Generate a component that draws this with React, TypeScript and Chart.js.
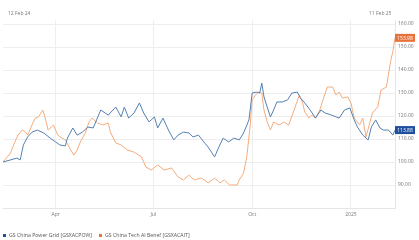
import React, { useEffect, useRef } from "react";
import { Chart, registerables } from "chart.js";

Chart.register(...registerables);

// days since 12 Feb 2024
const powerGridDays = [0, 13, 16, 19, 23, 27, 32, 38, 44, 49, 53, 58, 60, 65, 69, 74, 79, 84, 91, 98, 105, 110, 113, 117, 122, 127, 131, 136, 141, 144, 149, 154, 159, 163, 168, 173, 177, 182, 187, 191, 197, 201, 205, 210, 215, 220, 224, 229, 232, 236, 239, 241, 243, 246, 249, 252, 255, 260, 265, 269, 274, 277, 281, 286, 291, 296, 300, 306, 313, 318, 323, 327, 330, 335, 340, 343, 347, 351, 354, 359, 363, 365];
const powerGridValues = [100, 101.7, 100.9, 107.4, 110.9, 113, 113.9, 112.6, 110.4, 108.7, 107.4, 107, 110.4, 114.8, 111.7, 113, 115.2, 114.8, 122.6, 120.4, 123.9, 119.6, 123.9, 119.1, 121.3, 125.7, 121.3, 117.4, 119.6, 114.8, 119.1, 113.9, 109.6, 111.7, 113, 112.6, 110.9, 111.7, 108.7, 106.5, 102.2, 106.5, 110.4, 108.7, 110.4, 109.6, 112.6, 118.3, 130, 130.4, 130, 134.3, 128.3, 123.9, 119.6, 122.6, 126.1, 126.1, 127, 130, 130.4, 127.8, 125.7, 122.6, 119.1, 122.6, 121.3, 120.4, 119.1, 122.6, 123.5, 118.3, 115.2, 111.7, 109.6, 115.2, 118.3, 114.8, 113.9, 113.9, 111.7, 113.88];

const techAiDays = [0, 7, 11, 14, 18, 21, 23, 27, 30, 33, 37, 39, 42, 47, 51, 55, 58, 63, 66, 69, 72, 77, 80, 83, 88, 93, 98, 100, 105, 110, 116, 122, 129, 133, 138, 144, 150, 157, 163, 168, 173, 178, 185, 191, 197, 202, 206, 211, 218, 220, 224, 227, 230, 232, 235, 238, 241, 243, 246, 249, 252, 257, 262, 266, 271, 276, 279, 281, 285, 288, 291, 295, 297, 302, 307, 310, 313, 316, 321, 324, 327, 332, 335, 338, 344, 349, 352, 357, 361, 363, 365];
const techAiValues = [100, 103.9, 108.7, 111.7, 113.9, 113, 111.7, 116.1, 119.1, 119.6, 122.6, 119.6, 113.9, 116.1, 111.7, 110.4, 109.6, 105.2, 103, 105.2, 108.7, 113, 117.4, 119.1, 117, 116.1, 117, 113, 108.3, 107.4, 105.2, 104.3, 102.2, 97.8, 96.5, 98.7, 96.5, 97.4, 93.5, 92.2, 94.3, 92.2, 93, 90.9, 93, 90.9, 92.2, 90, 90, 92.2, 95.2, 102.2, 115.2, 127, 129.1, 130.4, 130, 122.6, 117.4, 113.9, 117.4, 116.1, 117.4, 116.1, 122.6, 129.1, 125.7, 121.7, 119.1, 120.4, 119.1, 122.6, 125.7, 132.6, 132.6, 129.1, 130.4, 127.8, 128.3, 125.7, 119.1, 116.1, 119.1, 110.9, 121.3, 124, 131.3, 132.6, 144, 148, 153.98];

const xTickDays = [49, 140, 232, 324];
const xTickLabels = ["Apr", "Jul", "Oct", "2025"];
const yTickValues = [90, 100, 110, 120, 130, 140, 150, 160];

const seriesNames = ["GS China Power Grid [GSXACPOW]", "GS China Tech AI Benef [GSXACAIT]"];
const seriesColors = ["#5580b3", "#f5ac7c"];
const labelColors = ["#1f4f9e", "#e8733a"];
const rangeLabels = ["12 Feb 24", "11 Feb 25"];

const FONT = "'Open Sans', 'DejaVu Sans', sans-serif";

const lastValuePlugin = {
  id: "lastValue",
  afterDraw(chart: any) {
    const ctx = chart.ctx;
    const yScale = chart.scales.y;
    const area = chart.chartArea;
    chart.data.datasets.forEach((ds: any, i: number) => {
      const last = ds.data[ds.data.length - 1];
      const y = yScale.getPixelForValue(last.y);
      ctx.save();
      ctx.fillStyle = labelColors[i];
      ctx.fillRect(area.right, y - 4, 20, 8);
      ctx.fillStyle = "#ffffff";
      ctx.font = `5px ${FONT}`;
      ctx.textAlign = "center";
      ctx.textBaseline = "middle";
      ctx.fillText(last.y.toFixed(2), area.right + 10, y + 0.5);
      ctx.restore();
    });
  },
};

export default function App() {
  const ref = useRef<HTMLCanvasElement | null>(null);

  useEffect(() => {
    document.body.style.margin = "0";
    const canvas = ref.current;
    if (!canvas) return;
    const chart = new Chart(canvas, {
      type: "line",
      data: {
        datasets: [
          {
            label: seriesNames[0],
            data: powerGridDays.map((d, i) => ({ x: d, y: powerGridValues[i] })),
            borderColor: seriesColors[0],
            backgroundColor: seriesColors[0],
            borderWidth: 1,
            pointRadius: 0,
            tension: 0,
          },
          {
            label: seriesNames[1],
            data: techAiDays.map((d, i) => ({ x: d, y: techAiValues[i] })),
            borderColor: seriesColors[1],
            backgroundColor: seriesColors[1],
            borderWidth: 1,
            pointRadius: 0,
            tension: 0,
          },
        ],
      },
      options: {
        animation: false,
        responsive: false,
        maintainAspectRatio: false,
        layout: { padding: { top: 20, left: 3, right: 0, bottom: 20 } },
        plugins: { legend: { display: false }, tooltip: { enabled: false } },
        scales: {
          x: {
            type: "linear",
            min: 0,
            max: 365,
            afterBuildTicks: (axis: any) => {
              axis.ticks = xTickDays.map((v) => ({ value: v }));
            },
            afterFit: (axis: any) => {
              axis.height = 12;
            },
            ticks: {
              autoSkip: false,
              maxRotation: 0,
              padding: 4,
              color: "#777",
              font: { size: 5, family: FONT },
              callback: (v: any) => {
                const idx = xTickDays.indexOf(Number(v));
                return idx >= 0 ? xTickLabels[idx] : "";
              },
            },
            grid: { color: "#eeeeee", lineWidth: 1, drawTicks: false },
            border: { color: "#e6e6e6" },
          },
          y: {
            position: "right",
            min: 80,
            max: 161.74,
            afterBuildTicks: (axis: any) => {
              axis.ticks = yTickValues.map((v) => ({ value: v }));
            },
            afterFit: (axis: any) => {
              axis.width = 24;
            },
            ticks: {
              padding: 3,
              color: "#777",
              font: { size: 5, family: FONT },
              callback: (v: any) => Number(v).toFixed(2),
            },
            grid: { color: "#eeeeee", lineWidth: 1, drawTicks: false },
            border: { color: "#e6e6e6" },
          },
        },
      },
      plugins: [lastValuePlugin],
    });
    return () => chart.destroy();
  }, []);

  const textStyle: React.CSSProperties = {
    position: "absolute",
    fontFamily: FONT,
    fontSize: "5px",
    color: "#777",
    whiteSpace: "nowrap",
  };

  return (
    <div style={{ position: "relative", width: 419, height: 240, background: "#fff", overflow: "hidden" }}>
      <canvas ref={ref} width={419} height={240} style={{ display: "block", width: 419, height: 240 }} />
      <div style={{ ...textStyle, left: 8, top: 10 }}>{rangeLabels[0]}</div>
      <div style={{ ...textStyle, left: 369, top: 10 }}>{rangeLabels[1]}</div>
      <div style={{ ...textStyle, left: 3, top: 231, display: "flex", alignItems: "center", color: "#555", fontSize: "5.2px" }}>
        <span style={{ display: "inline-block", width: 3, height: 3, background: labelColors[0], marginRight: 3 }} />
        <span>{seriesNames[0]}</span>
        <span style={{ display: "inline-block", width: 3, height: 3, background: labelColors[1], marginLeft: 7, marginRight: 3 }} />
        <span>{seriesNames[1]}</span>
      </div>
    </div>
  );
}
